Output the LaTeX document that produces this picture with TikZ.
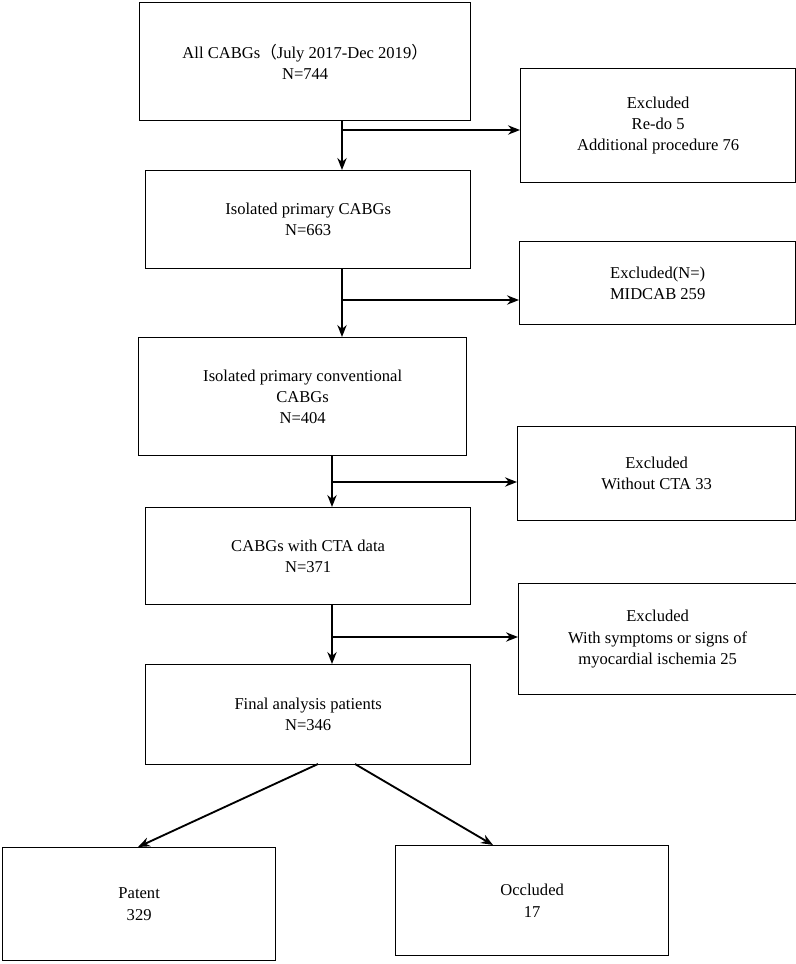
\documentclass[tikz,border=0pt]{standalone}
\usepackage{fontspec}
\usetikzlibrary{arrows.meta}
\setmainfont{Liberation Serif}
\newfontfamily\cjk{Noto Sans CJK SC}
\begin{document}
\begin{tikzpicture}[x=0.0265cm,y=-0.0265cm,
 bx/.style 2 args={draw,line width=1pt,anchor=north west,align=center,font=\fontsize{12.5}{16}\selectfont,inner sep=0pt,minimum width=#1*0.0265cm,minimum height=#2*0.0265cm},
 ar/.style={line width=1.4pt,-{Stealth[length=9pt,width=7pt]}}]
\useasboundingbox (0,0) rectangle (796,964);
\node[bx={331}{118}] (b1) at (139,2) {All CABGs{\cjk （}July 2017-Dec 2019{\cjk ）}\\N=744};
\node[bx={275}{114}] (e1) at (520,68) {Excluded\\Re-do 5\\Additional procedure 76};
\node[bx={325}{98}] (b2) at (145,170) {Isolated primary CABGs\\N=663};
\node[bx={276}{83}] (e2) at (519,241) {Excluded(N=)\\MIDCAB 259};
\node[bx={328}{118}] (b3) at (138,337) {Isolated primary conventional\\CABGs\\N=404};
\node[bx={278}{94}] (e3) at (517,426) {Excluded\\Without CTA 33};
\node[bx={325}{97}] (b4) at (145,507) {CABGs with CTA data\\N=371};
\node[bx={278}{111}] (e4) at (518,583) {Excluded\\With symptoms or signs of\\myocardial ischemia 25};
\node[bx={325}{100}] (b5) at (145,664) {Final analysis patients\\N=346};
\node[bx={273}{113}] (p) at (2,847) {Patent\\329};
\node[bx={273}{110}] (o) at (395,845) {Occluded\\17};
\coordinate (c1) at (342,130); \coordinate (c2) at (342,300);
\coordinate (c3) at (332,482); \coordinate (c4) at (332,637);
\draw[ar] (b1.south -| c1) -- (b2.north -| c1);
\draw[ar] (c1) -- (c1 -| e1.west);
\draw[ar] (b2.south -| c2) -- (b3.north -| c2);
\draw[ar] (c2) -- (c2 -| e2.west);
\draw[ar] (b3.south -| c3) -- (b4.north -| c3);
\draw[ar] (c3) -- (c3 -| e3.west);
\draw[ar] (b4.south -| c4) -- (b5.north -| c4);
\draw[ar] (c4) -- (c4 -| e4.west);
\coordinate (s1) at (318,764); \coordinate (s2) at (355,764);
\coordinate (t1) at (138,847); \coordinate (t2) at (493,845);
\draw[ar] (s1) -- (t1);
\draw[ar] (s2) -- (t2);
\end{tikzpicture}
\end{document}
